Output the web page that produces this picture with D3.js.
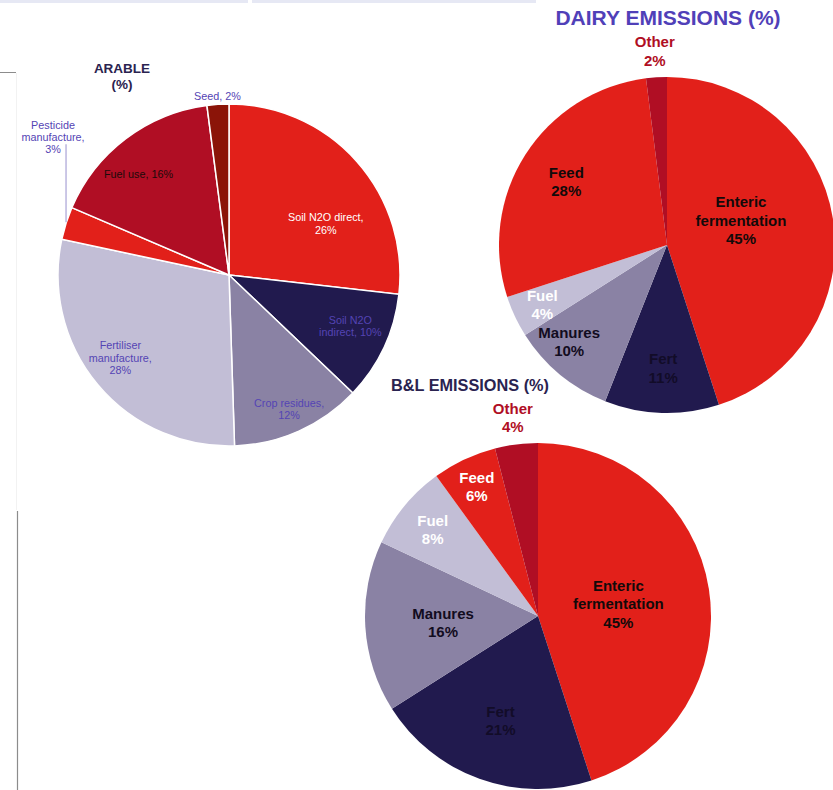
<!DOCTYPE html>
<html>
<head>
<meta charset="utf-8">
<script src="https://cdn.jsdelivr.net/npm/d3@7"></script>
<style>
  body { margin: 0; background: #fff; }
  svg { display: block; font-family: "Liberation Sans", Arial, sans-serif; }
</style>
</head>
<body>
<div class="canvas"></div>
<script>
// data
const arableLabels = ["Soil N2O direct,|26%", "Soil N2O|indirect, 10%", "Crop residues,|12%", "Fertiliser|manufacture,|28%", "Pesticide|manufacture,|3%", "Fuel use, 16%", "Seed, 2%"];
const arableValues = [26, 10, 12, 28, 3, 16, 2];

const dairyLabels = ["Enteric|fermentation|45%", "Fert|11%", "Manures|10%", "Fuel|4%", "Feed|28%", "Other|2%"];
const dairyValues = [45, 11, 10, 4, 28, 2];

const blLabels = ["Enteric|fermentation|45%", "Fert|21%", "Manures|16%", "Fuel|8%", "Feed|6%", "Other|4%"];
const blValues = [45, 21, 16, 8, 6, 4];

// colours
const red = "#e2201a", navy = "#211a4e", mauve = "#8a82a4", lilac = "#c2bed6", crimson = "#b00e24", brown = "#8b1408";
const purpleText = "#5444b4";

const w = 833, h = 790;
const svg = d3.select(".canvas").append("svg").attr("width", w).attr("height", h);

// page bits around the charts
svg.append("rect").attr("x", 0).attr("y", 0).attr("width", 248).attr("height", 3).attr("fill", "#e6e8f4");
svg.append("rect").attr("x", 252).attr("y", 0).attr("width", 284).attr("height", 3).attr("fill", "#e6e8f4");
svg.append("line").attr("x1", 0).attr("x2", 16).attr("y1", 72.5).attr("y2", 72.5).attr("stroke", "#8c8c8c");
svg.append("line").attr("x1", 16.5).attr("x2", 16.5).attr("y1", 73).attr("y2", 510).attr("stroke", "#f2f2f2");
svg.append("line").attr("x1", 17.5).attr("x2", 17.5).attr("y1", 511).attr("y2", 790).attr("stroke", "#8c8c8c").attr("stroke-width", 1.2);

function multiline(sel, str, lineH) {
  const parts = str.split("|");
  parts.forEach((p, i) => {
    sel.append("tspan").attr("x", 0).attr("dy", i === 0 ? -(parts.length - 1) * lineH / 2 + "em" : lineH + "em").text(p);
  });
}

// draws one pie; cfg holds position and label styling
function drawPie(cfg) {
  const g = svg.append("g").attr("transform", `translate(${cfg.cx}, ${cfg.cy})`);
  const pie = d3.pie().sort(null).value((d) => d.v);
  const arcs = pie(cfg.values.map((v, i) => ({ v, label: cfg.labels[i], i })));
  const arc = d3.arc().innerRadius(0).outerRadius(cfg.r);

  g.selectAll("path")
    .data(arcs)
    .enter()
    .append("path")
    .attr("d", arc)
    .attr("fill", (d) => cfg.colors[d.index])
    .attr("stroke", cfg.stroke || "none")
    .attr("stroke-width", cfg.stroke ? 1.5 : 0);

  arcs.forEach((d) => {
    const k = cfg.labelR[d.index];
    const la = d3.arc().innerRadius(cfg.r * k).outerRadius(cfg.r * k);
    let [x, y] = la.centroid(d);
    const nudge = (cfg.nudge && cfg.nudge[d.index]) || [0, 0];
    x += nudge[0];
    y += nudge[1];
    const t = g.append("text")
      .attr("transform", `translate(${x}, ${y})`)
      .attr("text-anchor", "middle")
      .attr("dominant-baseline", "central")
      .attr("font-size", cfg.fontSize)
      .attr("font-weight", cfg.bold ? "bold" : "normal")
      .attr("fill", cfg.textColors[d.index]);
    multiline(t, d.data.label, cfg.lineH);
  });
  return { g, arcs, arc };
}

// ARABLE
const arable = drawPie({
  cx: 229, cy: 275, r: 171,
  values: arableValues, labels: arableLabels,
  colors: [red, navy, mauve, lilac, red, crimson, brown],
  textColors: ["#ffffff", purpleText, purpleText, purpleText, purpleText, "#1a0a0a", purpleText],
  labelR: [0.68, 0.77, 0.86, 0.79, 0, 0.79, 1.05],
  nudge: [[10, 26], [2, -5], [0, 0], [-5, -4], [0, 0], [-9, 7], [0, 0]],
  fontSize: 10.8, lineH: 1.13, bold: false, stroke: "#ffffff"
});
// pesticide label sits outside with a leader line
{
  const d = arable.arcs[4];
  const edge = d3.arc().innerRadius(171).outerRadius(171).centroid(d);
  const lbl = arable.g.selectAll("text").filter((_, i) => i === 4);
  arable.g.append("line")
    .attr("x1", edge[0]).attr("x2", edge[0])
    .attr("y1", edge[1] - 1).attr("y2", edge[1] - 79)
    .attr("stroke", "#a9a3d6").attr("stroke-width", 1.2);
  lbl.attr("transform", `translate(${edge[0] - 13}, ${edge[1] - 86})`);
}
svg.append("text").attr("x", 122).attr("y", 73).attr("text-anchor", "middle")
  .attr("font-size", 13.5).attr("font-weight", "bold").attr("fill", "#2a2350").text("ARABLE");
svg.append("text").attr("x", 122).attr("y", 89).attr("text-anchor", "middle")
  .attr("font-size", 13.5).attr("font-weight", "bold").attr("fill", "#2a2350").text("(%)");

// DAIRY
drawPie({
  cx: 667, cy: 245, r: 168,
  values: dairyValues, labels: dairyLabels,
  colors: [red, navy, mauve, lilac, red, crimson],
  textColors: ["#120a0a", "#120c28", "#120c20", "#ffffff", "#120a0a", crimson],
  labelR: [0.47, 0.73, 0.82, 0.82, 0.71, 1.16],
  nudge: [[-4, -13], [0, 0], [-10, -10], [0, 0], [0, 0], [0, 0]],
  fontSize: 15, lineH: 1.22, bold: true
});
svg.append("text").attr("x", 668).attr("y", 25).attr("text-anchor", "middle")
  .attr("font-size", 21).attr("font-weight", "bold").attr("fill", "#5040b8").text("DAIRY EMISSIONS (%)");

// B&L
drawPie({
  cx: 538, cy: 616, r: 173,
  values: blValues, labels: blLabels,
  colors: [red, navy, mauve, lilac, red, crimson],
  textColors: ["#120a0a", "#120c28", "#120c20", "#ffffff", "#ffffff", crimson],
  labelR: [0.47, 0.64, 0.55, 0.79, 0.83, 1.16],
  fontSize: 15, lineH: 1.22, bold: true
});
svg.append("text").attr("x", 470).attr("y", 391).attr("text-anchor", "middle")
  .attr("font-size", 16.3).attr("font-weight", "bold").attr("fill", "#2a2350").text("B&L EMISSIONS (%)");
</script>
</body>
</html>
